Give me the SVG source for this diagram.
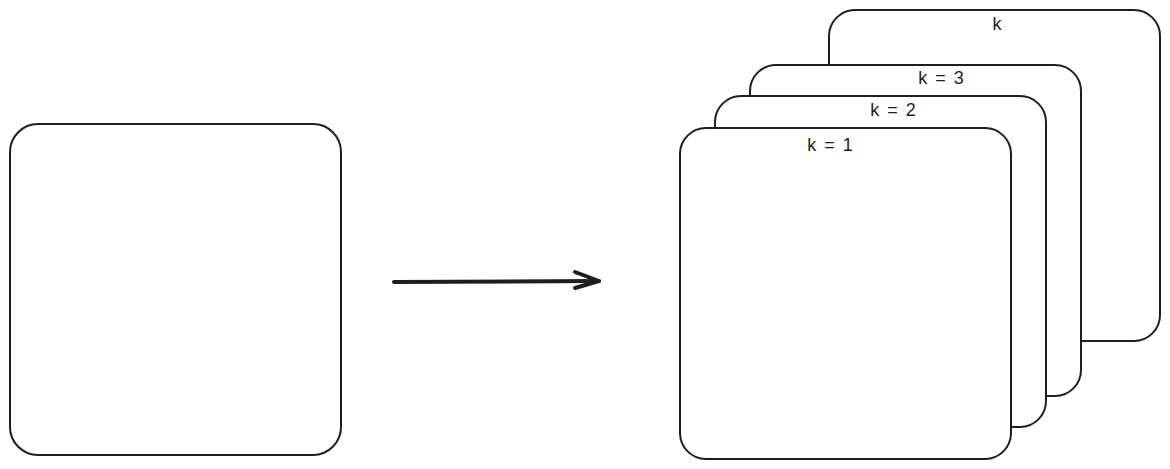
<svg xmlns="http://www.w3.org/2000/svg" width="1170" height="469" viewBox="0 0 1170 469">
<style>
.card{fill:#fff;stroke:#1e1e1e;stroke-width:2}
.lbl{font-family:"Liberation Sans",Arial,sans-serif;font-size:18px;word-spacing:3px;fill:#1e1e1e;text-anchor:middle}
.conn{stroke:#1e1e1e;stroke-width:4;stroke-linecap:round;stroke-linejoin:round;fill:none}
</style>
<rect width="1170" height="469" fill="#fff"/>
<g id="input">
<rect class="card" x="10" y="124" width="331" height="331" rx="28" ry="28"/>
</g>
<g id="card-k">
<rect class="card" x="829" y="10" width="331" height="331" rx="26" ry="26"/>
<text class="lbl" x="997" y="30">k</text>
</g>
<g id="card-k3">
<rect class="card" x="750" y="65" width="331" height="331" rx="26" ry="26"/>
<text class="lbl" x="941" y="84">k = 3</text>
</g>
<g id="card-k2">
<rect class="card" x="715" y="96" width="331" height="331" rx="26" ry="26"/>
<text class="lbl" x="893" y="116">k = 2</text>
</g>
<g id="card-k1">
<rect class="card" x="680" y="128" width="331" height="331" rx="26" ry="26"/>
<text class="lbl" x="830" y="151">k = 1</text>
</g>
<g id="connectors">
<path class="conn" d="M394 282 L599 281"/>
<path class="conn" d="M575 272 L599 281 L575 288"/>
</g>
</svg>
